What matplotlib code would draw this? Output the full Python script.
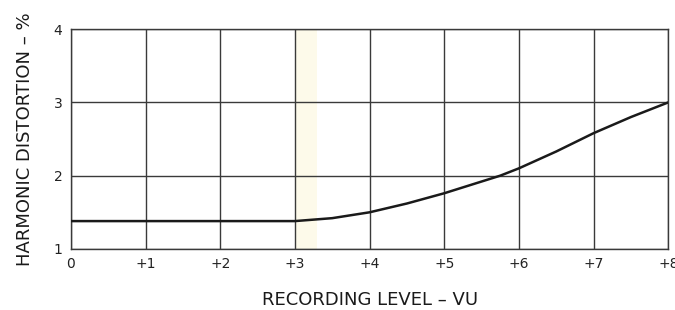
import numpy as np
import matplotlib.pyplot as plt

# data
level_vu = [0, 1, 2, 3, 3.5, 4, 4.5, 5, 5.5, 5.75, 6, 6.5, 7, 7.5, 8]
distortion = [1.38, 1.38, 1.38, 1.38, 1.42, 1.50, 1.62, 1.76, 1.92, 2.00, 2.10, 2.33, 2.58, 2.80, 3.00]

x_ticks = [0, 1, 2, 3, 4, 5, 6, 7, 8]
x_labels = ["0", "+1", "+2", "+3", "+4", "+5", "+6", "+7", "+8"]
y_ticks = [1, 2, 3, 4]
y_labels = ["1", "2", "3", "4"]

plt.rcParams['font.family'] = ['DejaVu Sans']

fig = plt.figure(figsize=(6.75, 3.1), dpi=100)
ax = fig.add_axes([0.105, 0.197, 0.885, 0.709])

# faint yellowish strip from the scan
ax.axvspan(3.02, 3.3, color='#fdfaea', zorder=0, lw=0)

ax.plot(level_vu, distortion, color='#1a1a1a', lw=1.8, zorder=3)

ax.set_xlim(0, 8)
ax.set_ylim(1, 4)
ax.set_xticks(x_ticks)
ax.set_xticklabels(x_labels, fontsize=10)
ax.set_yticks(y_ticks)
ax.set_yticklabels(y_labels, fontsize=10)
ax.tick_params(length=0, pad=6, colors='#222222')
ax.grid(True, color='#3a3a3a', lw=1.0)
for s in ax.spines.values():
    s.set_color('#3a3a3a')
    s.set_linewidth(1.0)

ax.set_xlabel("RECORDING LEVEL – VU", fontsize=13, labelpad=14, color='#1a1a1a')
ax.set_ylabel("HARMONIC DISTORTION – %", fontsize=13, labelpad=14, color='#1a1a1a')

fig.savefig("out.png", dpi=100)
